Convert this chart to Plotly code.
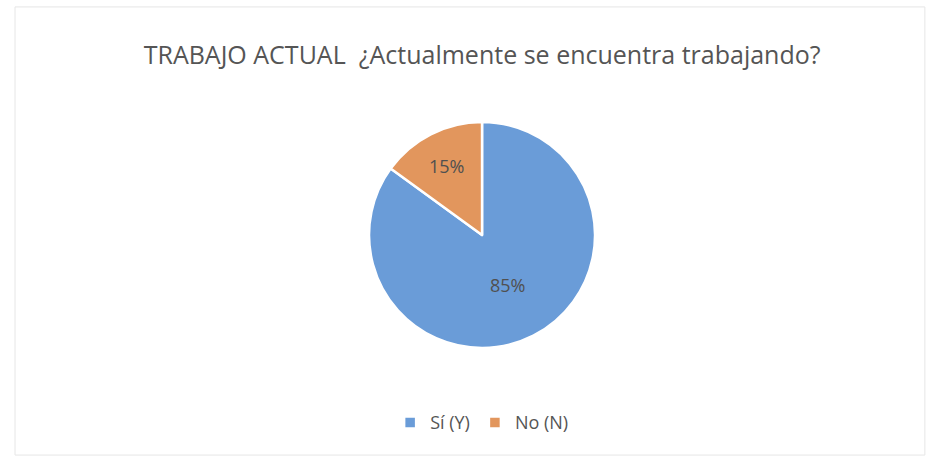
import plotly.graph_objects as go

labels = ["Sí (Y)", "No (N)"]
values = [85, 15]
colors = ["#6A9CD8", "#E2965D"]
title_text = "TRABAJO ACTUAL  ¿Actualmente se encuentra trabajando?"

fig = go.Figure()
fig.add_trace(go.Pie(
    labels=labels,
    values=values,
    sort=False,
    direction="clockwise",
    rotation=0,
    marker=dict(colors=colors, line=dict(color="white", width=2.5)),
    textinfo="percent",
    texttemplate="%{percent:.0%}",
    textposition="inside",
    insidetextorientation="horizontal",
    textfont=dict(family="Open Sans", size=18, color="#505050"),
    domain=dict(x=[0.3139, 0.7139], y=[0.2468, 0.7359]),
    hoverinfo="label+percent",
))

fig.update_layout(
    width=938, height=462,
    margin=dict(l=0, r=0, t=0, b=0),
    paper_bgcolor="white",
    plot_bgcolor="white",
    title=dict(text=title_text, x=0.514, xanchor="center", y=0.88, yanchor="middle",
               font=dict(family="Open Sans", size=25, color="#555555")),
    showlegend=True,
    legend=dict(orientation="h", x=0.514, xanchor="center", y=0.085, yanchor="middle",
                font=dict(family="Open Sans", size=18, color="#555555"),
                itemclick=False, traceorder="normal"),
    shapes=[dict(type="rect", xref="paper", yref="paper", x0=0.016, x1=0.986, y0=0.015, y1=0.985,
                 line=dict(color="#E6E6E6", width=1))],
)

fig.write_html("out.html", config={"displayModeBar": False},
               post_script="document.body.style.margin='0px';")
